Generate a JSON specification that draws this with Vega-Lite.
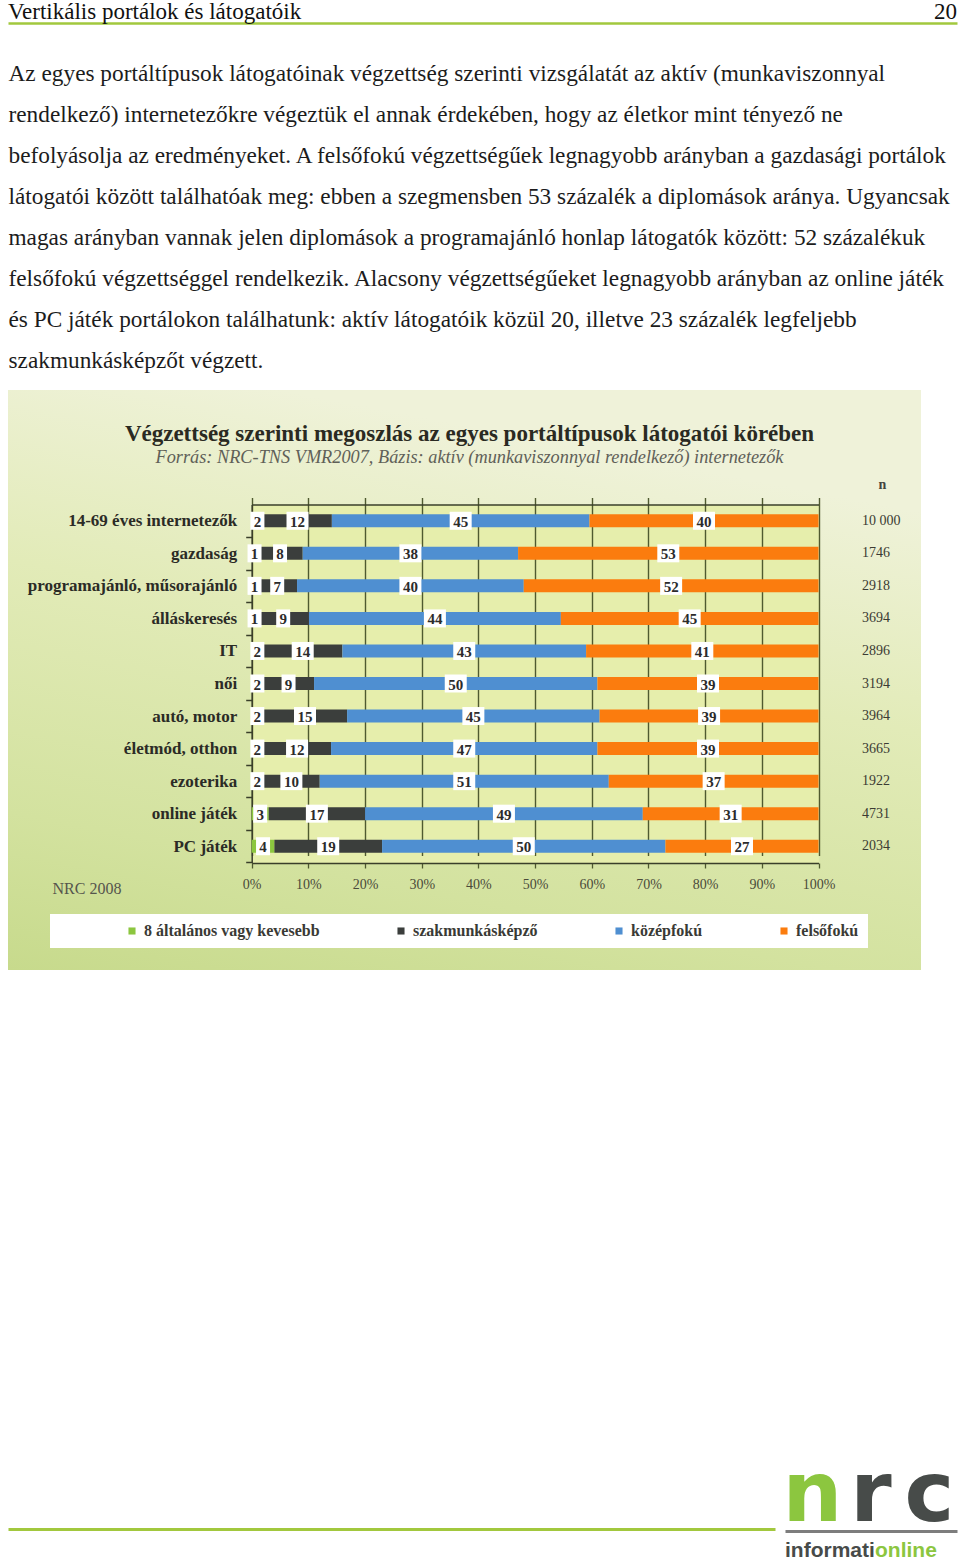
{
  "$schema": "https://vega.github.io/schema/vega-lite/v6.json",
  "background": "white",
  "padding": {"left": 8, "top": 0, "right": 3, "bottom": 6},
  "bounds": "flush",
  "spacing": 0,
  "config": {"font": "Liberation Serif", "view": {"stroke": null}},
  "datasets": {
    "vegzettseg": [
      {"kategoria": "14-69 éves internetezők", "szint": 1, "vegzettseg": "8 általános vagy kevesebb", "ertek": 2},
      {"kategoria": "14-69 éves internetezők", "szint": 2, "vegzettseg": "szakmunkásképző", "ertek": 12},
      {"kategoria": "14-69 éves internetezők", "szint": 3, "vegzettseg": "középfokú", "ertek": 45},
      {"kategoria": "14-69 éves internetezők", "szint": 4, "vegzettseg": "felsőfokú", "ertek": 40},
      {"kategoria": "gazdaság", "szint": 1, "vegzettseg": "8 általános vagy kevesebb", "ertek": 1},
      {"kategoria": "gazdaság", "szint": 2, "vegzettseg": "szakmunkásképző", "ertek": 8},
      {"kategoria": "gazdaság", "szint": 3, "vegzettseg": "középfokú", "ertek": 38},
      {"kategoria": "gazdaság", "szint": 4, "vegzettseg": "felsőfokú", "ertek": 53},
      {"kategoria": "programajánló, műsorajánló", "szint": 1, "vegzettseg": "8 általános vagy kevesebb", "ertek": 1},
      {"kategoria": "programajánló, műsorajánló", "szint": 2, "vegzettseg": "szakmunkásképző", "ertek": 7},
      {"kategoria": "programajánló, műsorajánló", "szint": 3, "vegzettseg": "középfokú", "ertek": 40},
      {"kategoria": "programajánló, műsorajánló", "szint": 4, "vegzettseg": "felsőfokú", "ertek": 52},
      {"kategoria": "álláskeresés", "szint": 1, "vegzettseg": "8 általános vagy kevesebb", "ertek": 1},
      {"kategoria": "álláskeresés", "szint": 2, "vegzettseg": "szakmunkásképző", "ertek": 9},
      {"kategoria": "álláskeresés", "szint": 3, "vegzettseg": "középfokú", "ertek": 44},
      {"kategoria": "álláskeresés", "szint": 4, "vegzettseg": "felsőfokú", "ertek": 45},
      {"kategoria": "IT", "szint": 1, "vegzettseg": "8 általános vagy kevesebb", "ertek": 2},
      {"kategoria": "IT", "szint": 2, "vegzettseg": "szakmunkásképző", "ertek": 14},
      {"kategoria": "IT", "szint": 3, "vegzettseg": "középfokú", "ertek": 43},
      {"kategoria": "IT", "szint": 4, "vegzettseg": "felsőfokú", "ertek": 41},
      {"kategoria": "női", "szint": 1, "vegzettseg": "8 általános vagy kevesebb", "ertek": 2},
      {"kategoria": "női", "szint": 2, "vegzettseg": "szakmunkásképző", "ertek": 9},
      {"kategoria": "női", "szint": 3, "vegzettseg": "középfokú", "ertek": 50},
      {"kategoria": "női", "szint": 4, "vegzettseg": "felsőfokú", "ertek": 39},
      {"kategoria": "autó, motor", "szint": 1, "vegzettseg": "8 általános vagy kevesebb", "ertek": 2},
      {"kategoria": "autó, motor", "szint": 2, "vegzettseg": "szakmunkásképző", "ertek": 15},
      {"kategoria": "autó, motor", "szint": 3, "vegzettseg": "középfokú", "ertek": 45},
      {"kategoria": "autó, motor", "szint": 4, "vegzettseg": "felsőfokú", "ertek": 39},
      {"kategoria": "életmód, otthon", "szint": 1, "vegzettseg": "8 általános vagy kevesebb", "ertek": 2},
      {"kategoria": "életmód, otthon", "szint": 2, "vegzettseg": "szakmunkásképző", "ertek": 12},
      {"kategoria": "életmód, otthon", "szint": 3, "vegzettseg": "középfokú", "ertek": 47},
      {"kategoria": "életmód, otthon", "szint": 4, "vegzettseg": "felsőfokú", "ertek": 39},
      {"kategoria": "ezoterika", "szint": 1, "vegzettseg": "8 általános vagy kevesebb", "ertek": 2},
      {"kategoria": "ezoterika", "szint": 2, "vegzettseg": "szakmunkásképző", "ertek": 10},
      {"kategoria": "ezoterika", "szint": 3, "vegzettseg": "középfokú", "ertek": 51},
      {"kategoria": "ezoterika", "szint": 4, "vegzettseg": "felsőfokú", "ertek": 37},
      {"kategoria": "online játék", "szint": 1, "vegzettseg": "8 általános vagy kevesebb", "ertek": 3},
      {"kategoria": "online játék", "szint": 2, "vegzettseg": "szakmunkásképző", "ertek": 17},
      {"kategoria": "online játék", "szint": 3, "vegzettseg": "középfokú", "ertek": 49},
      {"kategoria": "online játék", "szint": 4, "vegzettseg": "felsőfokú", "ertek": 31},
      {"kategoria": "PC játék", "szint": 1, "vegzettseg": "8 általános vagy kevesebb", "ertek": 4},
      {"kategoria": "PC játék", "szint": 2, "vegzettseg": "szakmunkásképző", "ertek": 19},
      {"kategoria": "PC játék", "szint": 3, "vegzettseg": "középfokú", "ertek": 50},
      {"kategoria": "PC játék", "szint": 4, "vegzettseg": "felsőfokú", "ertek": 27}
    ],
    "portalok": [
      {"kategoria": "14-69 éves internetezők", "n": 10000},
      {"kategoria": "gazdaság", "n": 1746},
      {"kategoria": "programajánló, műsorajánló", "n": 2918},
      {"kategoria": "álláskeresés", "n": 3694},
      {"kategoria": "IT", "n": 2896},
      {"kategoria": "női", "n": 3194},
      {"kategoria": "autó, motor", "n": 3964},
      {"kategoria": "életmód, otthon", "n": 3665},
      {"kategoria": "ezoterika", "n": 1922},
      {"kategoria": "online játék", "n": 4731},
      {"kategoria": "PC játék", "n": 2034}
    ]
  },
  "vconcat": [
    {
      "width": 949,
      "height": 22,
      "data": {"values": [
        {"szoveg": "Vertikális portálok és látogatóik", "hely": "cím"},
        {"szoveg": "20", "hely": "oldalszám"}
      ]},
      "mark": {"type": "text", "fontSize": 23, "color": "#111111", "baseline": "alphabetic", "dy": 6.5,
               "align": {"expr": "datum.hely === 'cím' ? 'left' : 'right'"}},
      "encoding": {
        "x": {"field": "hely", "type": "nominal", "sort": null,
              "scale": {"type": "point", "range": [0, 949], "padding": 0},
              "axis": {"labels": false, "ticks": false, "grid": false, "title": null, "domainColor": "#a2c83e", "domainWidth": 2.5}},
        "text": {"field": "szoveg"}
      }
    },
    {
      "width": 1,
      "height": 367,
      "data": {"values": [
        {"sor": 1, "szoveg": "Az egyes portáltípusok látogatóinak végzettség szerinti vizsgálatát az aktív (munkaviszonnyal"},
        {"sor": 2, "szoveg": "rendelkező) internetezőkre végeztük el annak érdekében, hogy az életkor mint tényező ne"},
        {"sor": 3, "szoveg": "befolyásolja az eredményeket. A felsőfokú végzettségűek legnagyobb arányban a gazdasági portálok"},
        {"sor": 4, "szoveg": "látogatói között találhatóak meg: ebben a szegmensben 53 százalék a diplomások aránya. Ugyancsak"},
        {"sor": 5, "szoveg": "magas arányban vannak jelen diplomások a programajánló honlap látogatók között: 52 százalékuk"},
        {"sor": 6, "szoveg": "felsőfokú végzettséggel rendelkezik. Alacsony végzettségűeket legnagyobb arányban az online játék"},
        {"sor": 7, "szoveg": "és PC játék portálokon találhatunk: aktív látogatóik közül 20, illetve 23 százalék legfeljebb"},
        {"sor": 8, "szoveg": "szakmunkásképzőt végzett."}
      ]},
      "mark": {"type": "text", "align": "left", "baseline": "middle", "fontSize": 23.3, "color": "#1c1c1c"},
      "encoding": {
        "y": {"field": "sor", "type": "ordinal", "scale": {"type": "point", "range": [51, 338], "padding": 0}, "axis": null},
        "text": {"field": "szoveg"}
      }
    },
    {
      "width": 913,
      "height": 580,
      "view": {"fill": {"gradient": "linear", "x1": 0.3, "y1": 0, "x2": 0, "y2": 1,
                        "stops": [{"offset": 0, "color": "#eff2d9"}, {"offset": 0.35, "color": "#e2ebb8"}, {"offset": 0.75, "color": "#d3e29f"}, {"offset": 1, "color": "#c7da8c"}]},
               "stroke": null},
      "title": {
        "text": "Végzettség szerinti megoszlás az egyes portáltípusok látogatói körében",
        "subtitle": "Forrás: NRC-TNS VMR2007, Bázis: aktív (munkaviszonnyal rendelkező) internetezők",
        "frame": "group", "anchor": "middle", "offset": -76, "dx": 5,
        "fontSize": 23, "fontWeight": "bold", "color": "#2a2a22",
        "subtitleFontSize": 18.3, "subtitleFontStyle": "italic", "subtitleColor": "#606058", "subtitlePadding": 3
      },
      "layer": [
        {
          "data": {"name": "portalok"},
          "mark": {"type": "text", "align": "left", "baseline": "middle", "fontSize": 14, "color": "#3b3b33"},
          "encoding": {
            "y": {"field": "kategoria", "type": "nominal", "sort": null,
                  "scale": {"range": [114.5, 472.5], "paddingInner": 0.6, "paddingOuter": 0.3}, "axis": null},
            "x": {"datum": 1.0768, "type": "quantitative", "scale": {"domain": [0, 1], "range": [243.7, 810.5]},
                  "axis": {"orient": "top", "offset": -114.5, "labels": false, "ticks": false,
                           "values": [0.5], "grid": true, "gridColor": "#e6eeac", "gridWidth": 566.8, "gridCap": "butt",
                           "domainColor": "#3a3f2a", "domainWidth": 1.5,
                           "title": "n", "titleX": 874, "titleY": -20.5, "titleAngle": 0, "titleAlign": "center",
                           "titleBaseline": "middle", "titleFontSize": 14, "titleFontWeight": "bold", "titleColor": "#444440"}},
            "text": {"value": {"expr": "datum.n >= 10000 ? replace(format(datum.n, ','), ',', ' ') : '' + datum.n"}}
          }
        },
        {
          "data": {"name": "vegzettseg"},
          "mark": {"type": "bar"},
          "encoding": {
            "y": {"field": "kategoria", "type": "nominal", "sort": null,
                  "scale": {"range": [114.5, 472.5], "paddingInner": 0.6, "paddingOuter": 0.3},
                  "axis": {"orient": "left", "offset": -243.7, "title": null, "labelFontSize": 17, "labelFontWeight": "bold",
                           "labelColor": "#2b2b26", "labelPadding": 9, "labelLimit": 300, "labelOffset": -16.25,
                           "tickOffset": 16.25, "tickSize": 6,
                           "tickColor": "#3a3f2a", "tickWidth": 1.5, "domainColor": "#3a3f2a", "domainWidth": 1.5, "grid": false}},
            "x": {"field": "ertek", "type": "quantitative", "stack": "normalize",
                  "scale": {"domain": [0, 1], "range": [243.7, 810.5]},
                  "axis": {"orient": "bottom", "offset": -107, "format": ".0%",
                           "values": [0, 0.1, 0.2, 0.3, 0.4, 0.5, 0.6, 0.7, 0.8, 0.9, 1],
                           "labelFlush": false, "labelOverlap": false,
                           "grid": true, "gridColor": "#4f5a30", "gridWidth": 1.4,
                           "tickSize": 5, "tickColor": "#4f5a30", "tickWidth": 1.3,
                           "domainColor": "#3a3f2a", "domainWidth": 1.5,
                           "labelFontSize": 14, "labelColor": "#4a4a3a", "labelPadding": 9,
                           "title": "NRC 2008", "titleX": 44, "titleY": 25, "titleAlign": "left", "titleBaseline": "middle",
                           "titleFontSize": 16, "titleFontWeight": "normal", "titleColor": "#55554d"}},
            "color": {"field": "vegzettseg", "type": "nominal",
                      "sort": ["8 általános vagy kevesebb", "szakmunkásképző", "középfokú", "felsőfokú"],
                      "scale": {"domain": ["8 általános vagy kevesebb", "szakmunkásképző", "középfokú", "felsőfokú"],
                                "range": ["#8cc63f", "#3b3e3c", "#4f8fd1", "#fb7c0e"]},
                      "legend": {"orient": "none", "legendX": 42, "legendY": 913, "direction": "horizontal",
                                 "fillColor": "white", "padding": 9, "title": " ", "titleOrient": "left", "titlePadding": 65,
                                 "symbolType": "square", "symbolSize": 50, "symbolStrokeWidth": 0,
                                 "labelFontSize": 16, "labelFontWeight": "bold", "labelColor": "#3a3a35",
                                 "labelOffset": 4, "columnPadding": 73, "labelLimit": 300}},
            "order": {"field": "szint", "type": "quantitative"}
          }
        },
        {
          "data": {"name": "vegzettseg"},
          "mark": {"type": "point", "filled": true, "fill": "white", "opacity": 1, "strokeWidth": 0, "size": 400},
          "encoding": {
            "y": {"field": "kategoria", "type": "nominal", "sort": null, "axis": null},
            "x": {"field": "ertek", "type": "quantitative", "stack": "normalize", "bandPosition": 0.5, "axis": null},
            "detail": {"field": "vegzettseg", "type": "nominal"},
            "order": {"field": "szint", "type": "quantitative"},
            "shape": {"condition": {"test": "datum.ertek < 10", "value": "M-0.7,-0.9H0.7V0.9H-0.7Z"},
                      "value": "M-1.1,-0.9H1.1V0.9H-1.1Z"}
          }
        },
        {
          "data": {"name": "vegzettseg"},
          "mark": {"type": "text", "fontSize": 15, "fontWeight": "bold", "color": "#2b2b2b", "baseline": "middle", "dy": 1},
          "encoding": {
            "y": {"field": "kategoria", "type": "nominal", "sort": null, "axis": null},
            "x": {"field": "ertek", "type": "quantitative", "stack": "normalize", "bandPosition": 0.5, "axis": null},
            "detail": {"field": "vegzettseg", "type": "nominal"},
            "order": {"field": "szint", "type": "quantitative"},
            "text": {"field": "ertek", "type": "quantitative"}
          }
        }
      ],
      "resolve": {"axis": {"x": "independent", "y": "independent"}}
    },
    {
      "width": 1,
      "height": 506,
      "data": {"values": []},
      "mark": "point"
    },
    {
      "hconcat": [
        {
          "width": 767,
          "height": 53,
          "data": {"values": []},
          "mark": "point",
          "encoding": {
            "x": {"field": "x", "type": "quantitative", "scale": {"domain": [0, 1]},
                  "axis": {"labels": false, "ticks": false, "grid": false, "title": null, "domainColor": "#a2c83e", "domainWidth": 3}}
          }
        },
        {
          "width": 172,
          "height": 83,
          "layer": [
            {
              "data": {"values": [{"betu": "n"}, {"betu": "r"}, {"betu": "c"}]},
              "mark": {"type": "text", "font": "DejaVu Sans", "fontWeight": "bold", "fontSize": 84, "baseline": "alphabetic", "dy": 3.5},
              "encoding": {
                "x": {"field": "betu", "type": "nominal", "sort": null,
                      "scale": {"type": "point", "range": [0, 172], "padding": 0.47},
                      "axis": {"orient": "bottom", "offset": -28, "labels": false, "ticks": false, "grid": false, "title": null,
                               "domainColor": "#7d7d7d", "domainWidth": 3}},
                "color": {"field": "betu", "type": "nominal", "scale": {"domain": ["n", "r", "c"], "range": ["#8cc63f", "#474b49", "#474b49"]}, "legend": null},
                "text": {"field": "betu"}
              }
            },
            {
              "data": {"values": [{"resz": "informati"}, {"resz": "online"}]},
              "mark": {"type": "text", "font": "Liberation Sans", "fontWeight": "bold", "fontSize": 21, "align": "left", "baseline": "alphabetic", "dy": 39.5},
              "encoding": {
                "x": {"field": "resz", "type": "nominal", "sort": null,
                      "scale": {"type": "point", "range": [0, 90], "padding": 0}, "axis": null},
                "color": {"field": "resz", "type": "nominal", "scale": {"domain": ["informati", "online"], "range": ["#474b49", "#8cc63f"]}, "legend": null},
                "text": {"field": "resz"}
              }
            }
          ],
          "resolve": {"scale": {"x": "independent", "color": "independent"}, "axis": {"x": "independent"}}
        }
      ],
      "spacing": 10,
      "bounds": "flush"
    }
  ]
}
